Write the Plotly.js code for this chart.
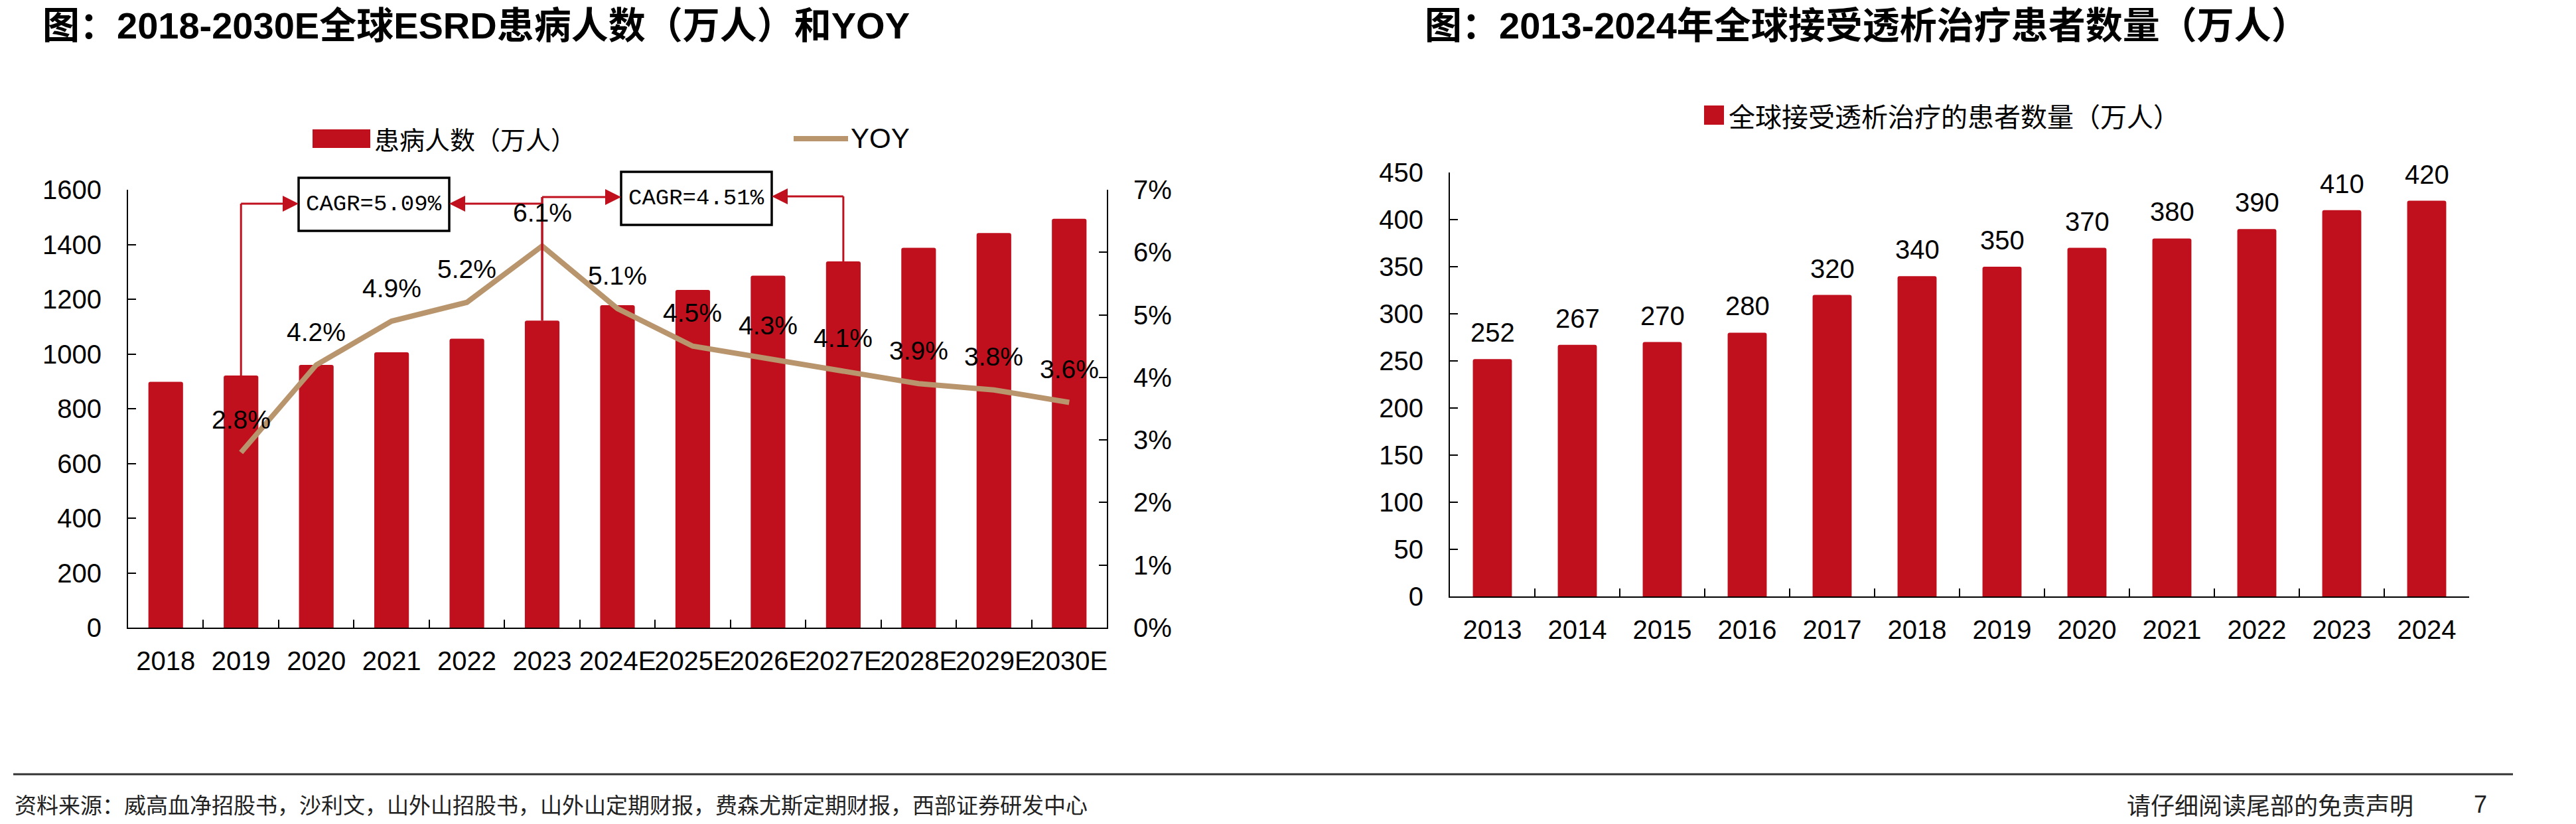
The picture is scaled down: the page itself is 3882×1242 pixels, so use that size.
<!DOCTYPE html>
<html>
<head>
<meta charset="utf-8">
<script src="https://cdn.plot.ly/plotly-3.0.1.min.js"></script>
<style>
  html, body { margin: 0; padding: 0; background: #ffffff; }
  #chart { width: 3882px; height: 1242px; }
</style>
</head>
<body>
<div id="chart"></div>
<script>
// ---- Left chart: global ESRD patients (10k people) and YoY growth ----
const esrdYears = ['2018', '2019', '2020', '2021', '2022', '2023', '2024E', '2025E', '2026E', '2027E', '2028E', '2029E', '2030E'];
const esrdPatients = [898, 921, 960, 1006, 1056, 1122, 1178, 1234, 1286, 1338, 1388, 1442, 1494];
const esrdYoy = [null, 2.8, 4.2, 4.9, 5.2, 6.1, 5.1, 4.5, 4.3, 4.1, 3.9, 3.8, 3.6];
const cagrNotes = [
  { from: '2019', to: '2023', text: 'CAGR=5.09%' },
  { from: '2023', to: '2027E', text: 'CAGR=4.51%' }
];

// ---- Right chart: global patients on dialysis (10k people) ----
const dialysisYears = ['2013', '2014', '2015', '2016', '2017', '2018', '2019', '2020', '2021', '2022', '2023', '2024'];
const dialysisPatients = [252, 267, 270, 280, 320, 340, 350, 370, 380, 390, 410, 420];

// ---- Texts ----
const leftTitle = '图：2018-2030E全球ESRD患病人数（万人）和YOY';
const rightTitle = '图：2013-2024年全球接受透析治疗患者数量（万人）';
const barLegendLeft = '患病人数（万人）';
const lineLegendLeft = 'YOY';
const barLegendRight = '全球接受透析治疗的患者数量（万人）';
const sourceNote = '资料来源：威高血净招股书，沙利文，山外山招股书，山外山定期财报，费森尤斯定期财报，西部证券研发中心';
const disclaimer = '请仔细阅读尾部的免责声明';
const pageNo = '7';

// ---- Styling ----
const RED = '#C0101E';
const TAN = '#B8956D';
const LATIN = '"Liberation Sans", Arial, sans-serif';
const CJK = '"Liberation Sans", "Noto Sans CJK SC", sans-serif';
const MONO = '"Liberation Mono", "DejaVu Sans Mono", monospace';

// Page geometry in pixels
const W = 3882, H = 1242;
const LP = { x0: 193, x1: 1668, y0: 286, y1: 946, max: 1600, max2: 0.07 };
const RP = { x0: 2185, x1: 3721, y0: 260, y1: 899, max: 450 };
const fx = p => p / W;
const fy = p => 1 - p / H;
const catX = (plot, cats, c) => plot.x0 + (cats.indexOf(c) + 0.5) * (plot.x1 - plot.x0) / cats.length;
const valY = (plot, v) => plot.y1 - v / plot.max * (plot.y1 - plot.y0);

const axisBase = {
  showline: true, linecolor: '#000', linewidth: 2,
  ticks: 'inside', ticklen: 12, tickwidth: 2, tickcolor: '#000',
  showgrid: false, zeroline: false, fixedrange: true,
  tickfont: { family: LATIN, size: 40, color: '#000' }
};

const traces = [
  {
    type: 'bar', x: esrdYears, y: esrdPatients, xaxis: 'x', yaxis: 'y',
    marker: { color: RED, cornerradius: 3 }, hoverinfo: 'skip', showlegend: false
  },
  {
    type: 'scatter', mode: 'lines', x: esrdYears, y: esrdYoy.map(v => v === null ? null : v / 100),
    xaxis: 'x', yaxis: 'y2', line: { color: TAN, width: 8 }, hoverinfo: 'skip', showlegend: false
  },
  {
    type: 'bar', x: dialysisYears, y: dialysisPatients, xaxis: 'x2', yaxis: 'y3',
    marker: { color: RED, cornerradius: 3 }, hoverinfo: 'skip', showlegend: false
  }
];

const shapes = [];
const annotations = [];

function text(x, y, s, size, opts) {
  annotations.push(Object.assign({
    xref: 'paper', yref: 'paper', x: fx(x), y: fy(y), text: s, showarrow: false,
    xanchor: 'left', yanchor: 'middle',
    font: { family: CJK, size: size, color: '#000' }
  }, opts || {}));
}
function line(x0, y0, x1, y1, color, width) {
  shapes.push({ type: 'line', xref: 'paper', yref: 'paper', x0: fx(x0), y0: fy(y0), x1: fx(x1), y1: fy(y1),
    line: { color: color, width: width } });
}
function rect(x0, y0, x1, y1, fill, border, bw) {
  shapes.push({ type: 'rect', xref: 'paper', yref: 'paper', x0: fx(x0), y0: fy(y0), x1: fx(x1), y1: fy(y1),
    fillcolor: fill, line: { color: border || fill, width: bw || 0 } });
}
// horizontal arrow: tail at (xs, y), tip at (xt, y)
function hArrow(xs, xt, y) {
  const dir = xt > xs ? 1 : -1, len = 24, half = 12;
  line(xs, y, xt - dir * len, y, RED, 3);
  const p = 'M' + fx(xt) + ',' + fy(y) + ' L' + fx(xt - dir * len) + ',' + fy(y - half) +
            ' L' + fx(xt - dir * len) + ',' + fy(y + half) + ' Z';
  shapes.push({ type: 'path', xref: 'paper', yref: 'paper', path: p, fillcolor: RED, line: { width: 0 } });
}

// Titles
text(62, 38, leftTitle, 56, { font: { family: CJK, size: 56, color: '#000', weight: 'bold' } });
text(2145, 38, rightTitle, 56, { font: { family: CJK, size: 56, color: '#000', weight: 'bold' } });

// Legends
rect(471, 195, 558, 223, RED);
text(562, 209, barLegendLeft, 38, { font: { family: '"Noto Sans CJK SC", sans-serif', size: 38, color: '#000' } });
line(1196, 209, 1278, 209, TAN, 8);
text(1280, 209, lineLegendLeft, 42, { font: { family: LATIN, size: 42, color: '#000' } });
rect(2568, 159, 2598, 188, RED);
text(2603, 174, barLegendRight, 40, { font: { family: '"Noto Sans CJK SC", sans-serif', size: 40, color: '#000' } });

// CAGR boxes with connectors drawn from the bar tops
const boxes = [
  { x0: 450, x1: 677, y0: 268, y1: 348 },
  { x0: 936, x1: 1163, y0: 259, y1: 339 }
];
const levelIn = [307, 297];   // height of the connector entering each box from the left
const levelOut = [307, 296];  // height of the connector entering each box from the right
cagrNotes.forEach((n, k) => {
  const b = boxes[k];
  rect(b.x0, b.y0, b.x1, b.y1, 'rgba(0,0,0,0)', '#000', 3.5);
  text((b.x0 + b.x1) / 2, (b.y0 + b.y1) / 2, n.text, 34,
       { xanchor: 'center', font: { family: MONO, size: 34, color: '#000' } });
  const xs = catX(LP, esrdYears, n.from), xe = catX(LP, esrdYears, n.to);
  const ys = valY(LP, esrdPatients[esrdYears.indexOf(n.from)]);
  const ye = valY(LP, esrdPatients[esrdYears.indexOf(n.to)]);
  const yin = levelIn[k], yout = levelOut[k];
  line(xs, ys, xs, yin, RED, 3);
  hArrow(xs, b.x0, yin);
  line(xe, ye, xe, Math.min(yout, k === 0 ? levelIn[1] : yout), RED, 3);
  hArrow(xe, b.x1, yout);
});

// YoY labels above the line points (category index positions)
esrdYears.forEach((yr, i) => {
  if (esrdYoy[i] === null) return;
  annotations.push({ xref: 'x', yref: 'y2', x: i, y: esrdYoy[i] / 100, yshift: 50,
    text: esrdYoy[i].toFixed(1) + '%', showarrow: false, xanchor: 'center', yanchor: 'middle',
    font: { family: LATIN, size: 39, color: '#000' } });
});
// Value labels above the dialysis bars
dialysisYears.forEach((yr, i) => {
  annotations.push({ xref: 'x2', yref: 'y3', x: i, y: dialysisPatients[i], yshift: 40,
    text: String(dialysisPatients[i]), showarrow: false, xanchor: 'center', yanchor: 'middle',
    font: { family: LATIN, size: 40, color: '#000' } });
});

// Footer
line(20, 1167, 3787, 1167, '#333', 3);
text(20, 1212, sourceNote, 33, { font: { family: '"Noto Sans CJK SC", sans-serif', size: 33, color: '#222' } });
text(3639, 1212, disclaimer, 36, { xanchor: 'right', font: { family: '"Noto Sans CJK SC", sans-serif', size: 36, color: '#222' } });
text(3738, 1212, pageNo, 36, { xanchor: 'center', font: { family: LATIN, size: 36, color: '#222' } });

const layout = {
  width: W, height: H, autosize: false,
  margin: { l: 0, r: 0, t: 0, b: 0, pad: 0 },
  paper_bgcolor: '#ffffff', plot_bgcolor: 'rgba(0,0,0,0)',
  showlegend: false, bargap: 0.54,
  xaxis: Object.assign({}, axisBase, {
    domain: [fx(LP.x0), fx(LP.x1)], anchor: 'y', type: 'category', tickangle: 0,
    range: [-0.5, esrdYears.length - 0.5], tickson: 'boundaries', ticklabelstandoff: 14
  }),
  yaxis: Object.assign({}, axisBase, {
    domain: [fy(LP.y1), fy(LP.y0)], anchor: 'x', range: [0, LP.max], dtick: 200, tick0: 0,
    ticklabelstandoff: 30
  }),
  yaxis2: Object.assign({}, axisBase, {
    overlaying: 'y', side: 'right', anchor: 'x', range: [0, LP.max2], dtick: 0.01, tick0: 0,
    tickformat: '.0%', ticklabelstandoff: 30
  }),
  xaxis2: Object.assign({}, axisBase, {
    domain: [fx(RP.x0), fx(RP.x1)], anchor: 'y3', type: 'category', tickangle: 0,
    range: [-0.5, dialysisYears.length - 0.5], tickson: 'boundaries', ticklabelstandoff: 14
  }),
  yaxis3: Object.assign({}, axisBase, {
    domain: [fy(RP.y1), fy(RP.y0)], anchor: 'x2', range: [0, RP.max], dtick: 50, tick0: 0,
    ticklabelstandoff: 30
  }),
  shapes: shapes,
  annotations: annotations
};

Plotly.newPlot('chart', traces, layout, { staticPlot: true, displayModeBar: false });
</script>
</body>
</html>
